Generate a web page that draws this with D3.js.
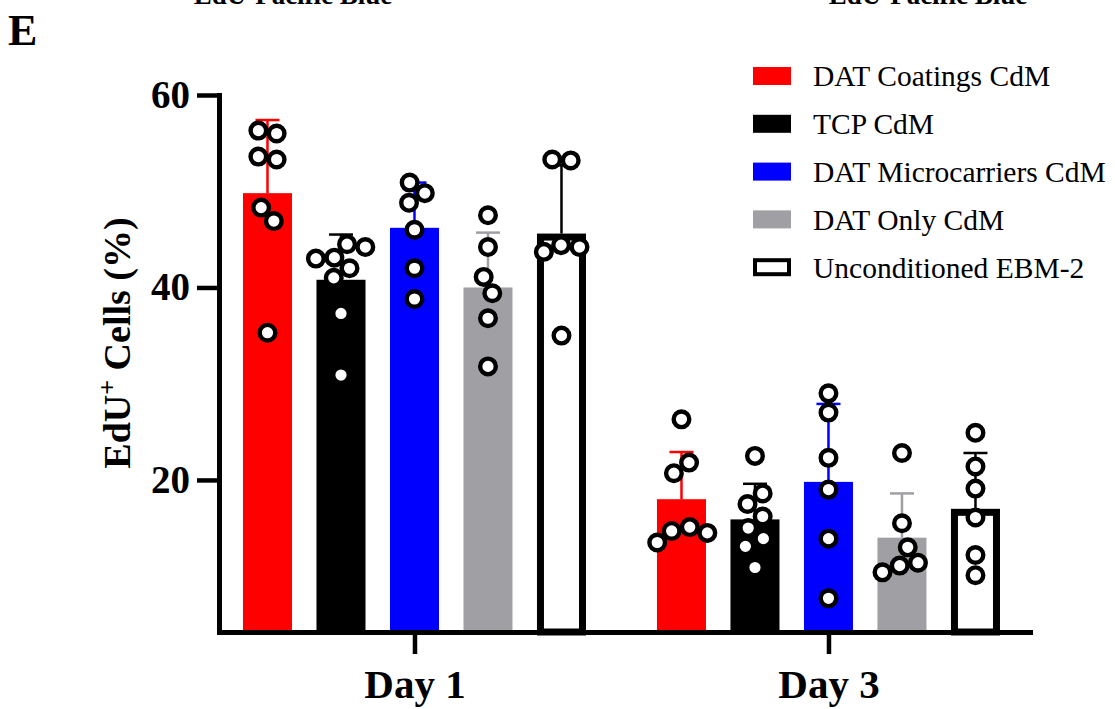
<!DOCTYPE html>
<html>
<head>
<meta charset="utf-8">
<script src="https://cdn.jsdelivr.net/npm/d3@7"></script>
<style>
  body { margin: 0; background: #fff; }
  text { font-family: "Liberation Serif", "Times New Roman", serif; }
</style>
</head>
<body>
<div id="chart-area"></div>
<script>
// data
var days = ["Day 1", "Day 3"];
var groups = ["DAT Coatings CdM", "TCP CdM", "DAT Microcarriers CdM", "DAT Only CdM", "Unconditioned EBM-2"];
var colors = ["#ff0000", "#000000", "#0000ff", "#a0a0a4", "#ffffff"];
var yTicks = [20, 40, 60];

var meansDay1 = [49.8, 40.8, 46.2, 40.0, 45.6];
var sdDay1 = [7.6, 4.7, 4.7, 5.7, 7.1];
var meansDay3 = [18.0, 15.9, 19.8, 14.0, 17.0];
var sdDay3 = [4.9, 3.7, 8.1, 4.6, 5.8];

var pointsDay1 = [
    [56.3, 56.0, 53.6, 53.3, 48.3, 46.9, 35.3],
    [44.5, 44.2, 43.1, 43.0, 42.0, 41.0, 37.3, 30.9],
    [50.9, 49.8, 48.8, 46.0, 42.0, 38.8],
    [47.5, 44.2, 41.1, 39.4, 36.8, 31.8],
    [53.3, 53.2, 44.4, 44.2, 43.7, 35.0]
];
var pointsDay3 = [
    [26.3, 21.8, 20.7, 15.1, 14.7, 14.5, 13.5],
    [22.5, 18.6, 17.5, 16.2, 15.0, 13.9, 13.1, 10.9],
    [29.0, 27.0, 22.3, 19.0, 13.9, 7.7],
    [22.8, 15.5, 13.0, 11.4, 11.1, 10.4],
    [24.9, 21.4, 19.1, 16.1, 12.2, 10.1]
];

var means = [meansDay1, meansDay3];
var sds = [sdDay1, sdDay3];
var points = [pointsDay1, pointsDay3];

var svg = d3.select("#chart-area").append("svg")
    .attr("width", 1115)
    .attr("height", 709);

var y = d3.scaleLinear().domain([4.2, 60]).range([632, 95]);
var x0 = d3.scalePoint().domain(days).range([219, 1030]).padding(0.4795).align(0.4924);
var x1 = d3.scaleBand().domain(groups).range([-184, 184]).paddingInner(0.333).paddingOuter(0.17);
var bw = x1.bandwidth();

// cut-off titles from the panels above
svg.selectAll(".cut").data(["EdU-Pacific Blue", "EdU-Pacific Blue"]).enter().append("text")
    .attr("x", (d, i) => i == 0 ? 293 : 928)
    .attr("y", 4)
    .attr("text-anchor", "middle")
    .attr("font-size", 27)
    .attr("font-weight", "bold")
    .text(d => d);

svg.append("text")
    .attr("x", 8).attr("y", 45)
    .attr("font-size", 44).attr("font-weight", "bold")
    .text("E");

// bars
var cells = [];
days.forEach((day, di) => {
    groups.forEach((g, gi) => {
        cells.push({day: day, g: g, gi: gi, mean: means[di][gi], sd: sds[di][gi], pts: points[di][gi]});
    });
});

svg.selectAll(".bar").data(cells).enter().append("rect")
    .attr("class", "bar")
    .attr("x", d => x0(d.day) + x1(d.g) + (d.gi == 4 ? 3.5 : 0))
    .attr("width", d => d.gi == 4 ? bw - 7 : bw)
    .attr("y", d => y(d.mean) + (d.gi == 4 ? 3.5 : 0))
    .attr("height", d => 632 - y(d.mean) - (d.gi == 4 ? 3.5 : 0))
    .attr("fill", d => colors[d.gi])
    .attr("stroke", d => d.gi == 4 ? "#000" : "none")
    .attr("stroke-width", 7);

// error bars (upper only)
var err = svg.selectAll(".err").data(cells).enter().append("g")
    .attr("transform", d => "translate(" + (x0(d.day) + x1(d.g) + bw / 2) + ",0)")
    .attr("stroke", d => d.gi == 4 ? "#000" : colors[d.gi])
    .attr("stroke-width", 2.5);
err.append("line")
    .attr("y1", d => y(d.mean)).attr("y2", d => y(d.mean + d.sd));
err.append("line")
    .attr("x1", -12).attr("x2", 12)
    .attr("y1", d => y(d.mean + d.sd)).attr("y2", d => y(d.mean + d.sd));

// simple beeswarm for the dots
var D = 18.5;
function swarm(vals) {
    var placed = [];
    var pts = vals.map(v => ({v: v, y: y(v)})).sort((a, b) => a.y - b.y);
    pts.forEach((p, k) => {
        var cands = [0];
        placed.forEach(q => {
            var dy = Math.abs(q.y - p.y);
            if (dy < D) {
                var dx = Math.sqrt(D * D - dy * dy);
                cands.push(q.x + dx, q.x - dx);
            }
        });
        cands.sort((a, b) => Math.abs(a) - Math.abs(b) || (k % 2 ? b - a : a - b));
        p.x = cands.find(c => placed.every(q => (q.x - c) * (q.x - c) + (q.y - p.y) * (q.y - p.y) >= D * D - 0.5));
        placed.push(p);
    });
    // centre each cluster of touching dots
    var clusters = [];
    placed.forEach(p => {
        var last = clusters[clusters.length - 1];
        if (last && p.y - last[last.length - 1].y < D) last.push(p);
        else clusters.push([p]);
    });
    clusters.forEach(c => {
        if (c.length < 2) return;
        var m = d3.mean(c, p => p.x);
        c.forEach(p => p.x -= m);
    });
    return placed;
}

var dots = [];
cells.forEach(c => {
    var cx = x0(c.day) + x1(c.g) + bw / 2;
    swarm(c.pts).forEach(p => dots.push({x: cx + p.x, y: p.y}));
});

svg.selectAll(".dot").data(dots).enter().append("circle")
    .attr("cx", d => d.x)
    .attr("cy", d => d.y)
    .attr("r", 7.8)
    .attr("fill", "#fff")
    .attr("stroke", "#000")
    .attr("stroke-width", 4.4);

// axes
var yAxis = svg.append("g")
    .attr("transform", "translate(219,0)")
    .call(d3.axisLeft(y).tickValues(yTicks).tickSize(22).tickSizeOuter(0).tickPadding(7));
var xAxis = svg.append("g")
    .attr("transform", "translate(0,632)")
    .call(d3.axisBottom(x0).tickSize(22).tickSizeOuter(0).tickPadding(15));

[yAxis, xAxis].forEach(a => {
    a.select(".domain").attr("stroke-width", 5).attr("stroke-linecap", "square");
    a.selectAll(".tick line").attr("stroke-width", 4.5);
    a.selectAll("text")
        .attr("font-family", "'Liberation Serif', 'Times New Roman', serif")
        .attr("font-weight", "bold")
        .attr("fill", "#000");
});
yAxis.selectAll("text").attr("font-size", 39);
xAxis.selectAll("text").attr("font-size", 41);

var yTitle = svg.append("text")
    .attr("transform", "translate(130,343) rotate(-90)")
    .attr("text-anchor", "middle")
    .attr("font-size", 38)
    .attr("font-weight", "bold");
yTitle.append("tspan").text("EdU");
yTitle.append("tspan").attr("dy", -14).attr("font-size", 26).text("+");
yTitle.append("tspan").attr("dy", 14).text(" Cells (%)");

// legend
var legend = svg.selectAll(".legend").data(groups).enter().append("g")
    .attr("transform", (d, i) => "translate(753," + (76 + i * 47.8) + ")");
legend.append("rect")
    .attr("x", (d, i) => i == 4 ? 2 : 0)
    .attr("y", (d, i) => i == 4 ? -7 : -9)
    .attr("width", (d, i) => i == 4 ? 34 : 38)
    .attr("height", (d, i) => i == 4 ? 14 : 18)
    .attr("fill", (d, i) => colors[i])
    .attr("stroke", (d, i) => i == 4 ? "#000" : "none")
    .attr("stroke-width", 4);
legend.append("text")
    .attr("x", 60)
    .attr("dy", "0.35em")
    .attr("font-size", 29.5)
    .text(d => d);
</script>
</body>
</html>
